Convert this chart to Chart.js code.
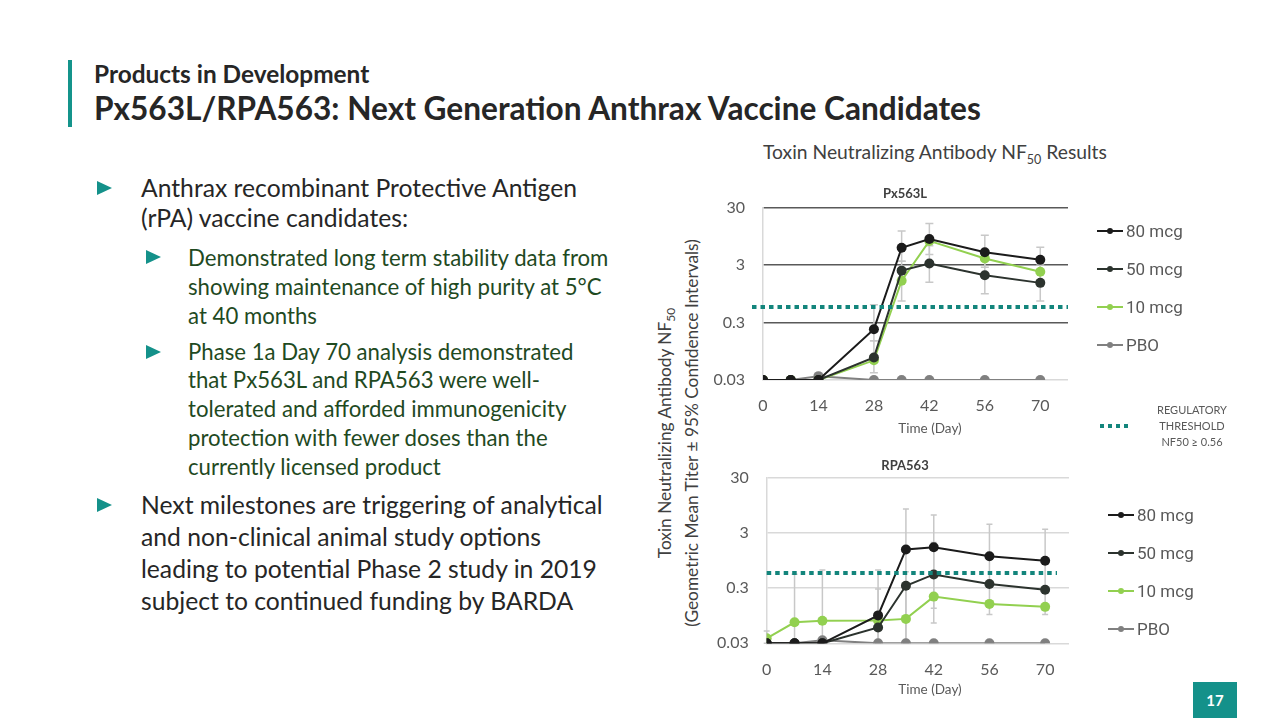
<!DOCTYPE html>
<html>
<head>
<meta charset="utf-8">
<script src="https://cdn.jsdelivr.net/npm/chart.js@4.4.1/dist/chart.umd.min.js"></script>
<style>
body { margin:0; width:1280px; height:720px; position:relative; background:#fff; font-family:Lato, sans-serif; overflow:hidden; }
.abs { position:absolute; }
.bar { left:68px; top:60px; width:4px; height:67px; background:#14948b; }
.kicker { left:94px; top:59px; font-size:24.4px; font-weight:bold; color:#262626; line-height:30px; white-space:nowrap; }
.title { left:94px; top:88px; font-size:31.6px; font-weight:bold; color:#262626; line-height:40px; white-space:nowrap; }
.p1 { left:141px; font-size:24.7px; color:#262626; white-space:nowrap; }
.p2 { left:188px; font-size:22.2px; color:#1f4a1f; white-space:nowrap; }
.tri { width:0; height:0; border-top:7px solid transparent; border-bottom:7px solid transparent; border-left:15px solid #14918a; }
.heading { left:763px; top:140px; font-size:19.3px; color:#404040; white-space:nowrap; line-height:24px; }
.ytitle { left:678px; top:433px; transform:translate(-50%,-50%) rotate(-90deg); font-size:17.3px; color:#404040; line-height:21px; text-align:center; white-space:nowrap; }
.xtitle { font-size:13.5px; color:#595959; transform:translate(-50%,-50%); white-space:nowrap; }
canvas { position:absolute; }
.legend { position:absolute; font-family:Roboto, sans-serif; font-size:17px; color:#595959; }
.legend .row { display:flex; align-items:center; height:38px; }
.legend .mk { position:relative; width:26px; height:2px; margin-right:3px; }
.legend .dot { position:absolute; left:10px; top:-2px; width:6px; height:6px; border-radius:50%; }
.thr { left:1100px; top:424px; width:30px; height:4px; background:repeating-linear-gradient(90deg,#13857c 0 4px,transparent 4px 8px); }
.thrtext { left:1150px; top:402px; width:84px; text-align:center; font-size:11px; color:#595959; line-height:16px; }
.page { left:1193px; top:682px; width:44px; height:36px; background:#14918a; color:#fff; font-weight:bold; font-size:15px; line-height:36px; text-align:center; }
</style>
</head>
<body>
<div class="abs bar"></div>
<div class="abs kicker">Products in Development</div>
<div class="abs title">Px563L/RPA563: Next Generation Anthrax Vaccine Candidates</div>

<div class="abs tri" style="left:97px;top:181px"></div>
<div class="abs p1" style="top:173px;line-height:29.5px">Anthrax recombinant Protective Antigen<br>(rPA) vaccine candidates:</div>
<div class="abs tri" style="left:146px;top:250px"></div>
<div class="abs p2" style="top:242.5px;line-height:29px">Demonstrated long term stability data from<br>showing maintenance of high purity at 5°C<br>at 40 months</div>
<div class="abs tri" style="left:146px;top:345px"></div>
<div class="abs p2" style="top:337.6px;line-height:28.8px">Phase 1a Day 70 analysis demonstrated<br>that Px563L and RPA563 were well-<br>tolerated and afforded immunogenicity<br>protection with fewer doses than the<br>currently licensed product</div>
<div class="abs tri" style="left:97px;top:498px"></div>
<div class="abs p1" style="top:489px;line-height:32px">Next milestones are triggering of analytical<br>and non-clinical animal study options<br>leading to potential Phase 2 study in 2019<br>subject to continued funding by BARDA</div>

<div class="abs heading">Toxin Neutralizing Antibody NF<sub style="font-size:12.5px">50</sub> Results</div>
<div class="abs ytitle">Toxin Neutralizing Antibody NF<sub style="font-size:12px">50</sub><br>(Geometric Mean Titer ± 95% Confidence Intervals)</div>

<canvas id="chartTop" width="410" height="262" style="left:700px;top:180px"></canvas>
<canvas id="chartBottom" width="410" height="244" style="left:700px;top:450px"></canvas>
<div class="abs xtitle" style="left:930px;top:428px">Time (Day)</div>
<div class="abs xtitle" style="left:930px;top:689px">Time (Day)</div>

<div class="legend" id="legendTop" style="left:1097px;top:211.7px"></div>
<div class="legend" id="legendBottom" style="left:1108px;top:496px"></div>

<div class="abs thr"></div>
<div class="abs thrtext">REGULATORY<br>THRESHOLD<br>NF50 ≥ 0.56</div>
<div class="abs page">17</div>

<script>
const days = [0, 7, 14, 28, 35, 42, 56, 70];
const dayTicks = [0, 14, 28, 42, 56, 70];
const titerTicks = [0.03, 0.3, 3, 30];
const seriesNames = ['80 mcg', '50 mcg', '10 mcg', 'PBO'];
const seriesColors = ['#1b1b1b', '#2c332e', '#92d050', '#808080'];
const threshold = 0.56;

// Px563L geometric mean titers
const px80 = [0.03, 0.03, 0.03, 0.23, 6.0, 8.5, 5.0, 3.7];
const px50 = [0.03, 0.03, 0.03, 0.074, 2.4, 3.2, 2.0, 1.47];
const px10 = [0.03, 0.03, 0.03, 0.066, 1.6, 7.9, 3.9, 2.3];
const pxPbo = [0.03, 0.03, 0.035, 0.03, 0.03, 0.03, 0.03, 0.03];
// Px563L 95% CI [low, high]
const px80Err = [null, null, null, [0.145, 0.61], [3.5, 11.7], [4.6, 15.9], [2.74, 9.9], [1.57, 6.1]];
const px50Err = [null, null, null, [0.04, 0.145], [0.71, 3.5], [1.51, 6.5], [0.95, 4.1], [0.71, 3.0]];

// RPA563 geometric mean titers
const rpa80 = [0.03, 0.03, 0.03, 0.096, 1.5, 1.65, 1.13, 0.94];
const rpa50 = [0.03, 0.03, 0.03, 0.058, 0.33, 0.53, 0.355, 0.28];
const rpa10 = [0.037, 0.072, 0.077, 0.078, 0.083, 0.21, 0.155, 0.137];
const rpaPbo = [0.03, 0.03, 0.034, 0.03, 0.03, 0.03, 0.03, 0.03];
// RPA563 95% CI [low, high]
const rpa80Err = [null, null, null, [0.03, 0.29], [0.03, 8.1], [0.13, 6.3], [0.1, 4.3], [0.1, 3.5]];
const rpa50Err = [null, null, null, null, [0.03, 0.59], [0.07, 2.0], null, null];
const rpa10Err = [[0.03, 0.05], [0.03, 0.535], [0.03, 0.64], [0.03, 0.64], null, null, null, null];

const errorBars = {
    id: 'errorBars',
    beforeDatasetsDraw(chart, args, opts) {
        const {ctx, scales: {x, y}} = chart;
        ctx.save();
        ctx.strokeStyle = '#c8c8c8';
        ctx.lineWidth = 1.5;
        chart.data.datasets.forEach(ds => {
            if (!ds.err) return;
            ds.err.forEach((e, i) => {
                if (!e) return;
                const px = x.getPixelForValue(ds.data[i].x);
                const y0 = y.getPixelForValue(e[0]);
                const y1 = y.getPixelForValue(e[1]);
                ctx.beginPath();
                ctx.moveTo(px, y0); ctx.lineTo(px, y1);
                ctx.moveTo(px - opts.cap, y0); ctx.lineTo(px + opts.cap, y0);
                ctx.moveTo(px - opts.cap, y1); ctx.lineTo(px + opts.cap, y1);
                ctx.stroke();
            });
        });
        ctx.restore();
    }
};

const thresholdLine = {
    id: 'thresholdLine',
    afterDatasetsDraw(chart, args, opts) {
        const {ctx, chartArea, scales: {y}} = chart;
        const py = y.getPixelForValue(threshold);
        ctx.save();
        ctx.strokeStyle = '#13857c';
        ctx.lineWidth = 4;
        ctx.setLineDash([4.5, 4]);
        ctx.beginPath();
        ctx.moveTo(chartArea.left + opts.from, py);
        ctx.lineTo(chartArea.right + opts.to, py);
        ctx.stroke();
        ctx.restore();
    }
};

function makeDataset(i, values, err) {
    return {
        label: seriesNames[i],
        data: days.map((d, k) => ({x: d, y: values[k]})),
        err: err,
        borderColor: seriesColors[i],
        backgroundColor: seriesColors[i],
        pointBackgroundColor: seriesColors[i],
        pointBorderColor: seriesColors[i],
        borderWidth: 2,
        pointRadius: 5,
        pointBorderWidth: 0,
        tension: 0,
    };
}

function makeConfig(title, datasets, g) {
    return {
        type: 'line',
        data: {datasets: datasets},
        options: {
            responsive: false,
            animation: false,
            plugins: {
                legend: {display: false},
                tooltip: {enabled: false},
                title: {
                    display: true,
                    text: title,
                    color: '#404040',
                    font: {family: 'Lato', size: 13, weight: 'bold'},
                    padding: {top: g.titleTop, bottom: g.titleBottom}
                },
                errorBars: {cap: g.cap},
                thresholdLine: {from: g.thrFrom, to: g.thrTo}
            },
            scales: {
                x: {
                    type: 'linear', min: 0, max: g.xmax,
                    afterBuildTicks: s => { s.ticks = dayTicks.map(v => ({value: v})); },
                    afterFit: s => { s.height = g.xh; },
                    ticks: {color: '#595959', font: {family: 'Lato', size: 16}, padding: g.xpad},
                    grid: {display: false},
                    border: {display: false}
                },
                y: {
                    type: 'logarithmic', min: 0.03, max: 30,
                    afterBuildTicks: s => { s.ticks = titerTicks.map(v => ({value: v})); },
                    afterFit: s => { s.width = g.yw; },
                    ticks: {color: '#595959', font: {family: 'Lato', size: 16}, padding: 18, callback: v => String(v)},
                    grid: {
                        color: c => (c.tick && c.tick.value === 0.03) ? '#d9d9d9' : g.gridColor,
                        lineWidth: 1.5,
                        drawTicks: false
                    },
                    border: {display: true, color: '#d9d9d9', width: 1.5}
                },
                // empty spacer on the right so the chart title centres like the original
                spacer: {
                    type: 'linear', position: 'right',
                    afterFit: s => { s.width = g.right; },
                    ticks: {display: false},
                    grid: {display: false},
                    border: {display: false}
                }
            }
        },
        plugins: [errorBars, thresholdLine]
    };
}

const chartTop = new Chart(document.getElementById('chartTop'), makeConfig('Px563L', [
    makeDataset(0, px80, px80Err),
    makeDataset(1, px50, px50Err),
    makeDataset(2, px10, null),
    makeDataset(3, pxPbo, null),
], {right: 42, titleTop: 4, titleBottom: 6, xh: 62, xpad: 8, yw: 63, xmax: 77, cap: 4, gridColor: '#595959', thrFrom: -11, thrTo: 0}));

const chartBottom = new Chart(document.getElementById('chartBottom'), makeConfig('RPA563', [
    makeDataset(0, rpa80, rpa80Err),
    makeDataset(1, rpa50, rpa50Err),
    makeDataset(2, rpa10, rpa10Err),
    makeDataset(3, rpaPbo, null),
], {right: 41, titleTop: 2, titleBottom: 3.5, xh: 50.7, xpad: 9, yw: 66.7, xmax: 76, cap: 3, gridColor: '#d9d9d9', thrFrom: 0, thrTo: -12}));

function buildLegend(chart, id) {
    const box = document.getElementById(id);
    chart.data.datasets.forEach(ds => {
        const row = document.createElement('div');
        row.className = 'row';
        row.innerHTML = '<span class="mk" style="background:' + ds.borderColor + '"><span class="dot" style="background:' +
            ds.borderColor + '"></span></span><span>' + ds.label + '</span>';
        box.appendChild(row);
    });
}
buildLegend(chartTop, 'legendTop');
buildLegend(chartBottom, 'legendBottom');
</script>
</body>
</html>
